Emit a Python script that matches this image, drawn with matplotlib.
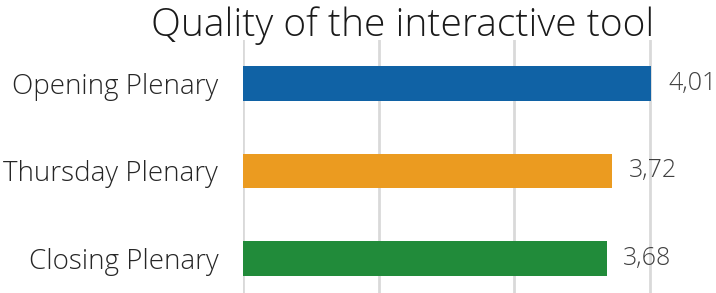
import matplotlib.pyplot as plt

# data
categories = ['Opening Plenary', 'Thursday Plenary', 'Closing Plenary']
values = [4.01, 3.72, 3.68]
value_labels = ['4,01', '3,72', '3,68']
colors = ['#1062A5', '#EB9B20', '#218B3A']

plt.rcParams['font.family'] = ['Open Sans', 'DejaVu Sans']

fig = plt.figure(figsize=(7.16, 2.93), dpi=100)
ax = fig.add_axes([243.3 / 716, 0, 1 - 243.3 / 716, 253 / 293])

ypos = list(range(len(categories)))
ax.barh(ypos, [v - 1 for v in values], left=1, height=0.395, color=colors, zorder=3)

ax.set_xlim(1, 4.486)
ax.set_ylim(2.395, -0.496)
ax.set_xticks([1, 2, 3, 4])
ax.set_xticklabels([])
ax.tick_params(axis='x', length=0)
ax.tick_params(axis='y', length=0, pad=18)
ax.set_yticks(ypos)
ax.set_yticklabels(categories, fontsize=20, fontweight='light', color='#262626')
ax.grid(axis='x', color='#D9D9D9', linewidth=2, zorder=0)
for s in ax.spines.values():
    s.set_visible(False)

# value labels
for y, v, lab in zip(ypos, values, value_labels):
    ax.annotate(lab, (v, y), xytext=(12, 0), textcoords='offset points',
                ha='left', va='center', fontsize=18, fontweight='light',
                color='#404040', annotation_clip=False, clip_on=False)

fig.text(403 / 716, 1 - 36 / 293, 'Quality of the interactive tool',
         ha='center', va='baseline', fontsize=28, fontweight='light', color='#1a1a1a')

fig.savefig('out.png', dpi=100)
